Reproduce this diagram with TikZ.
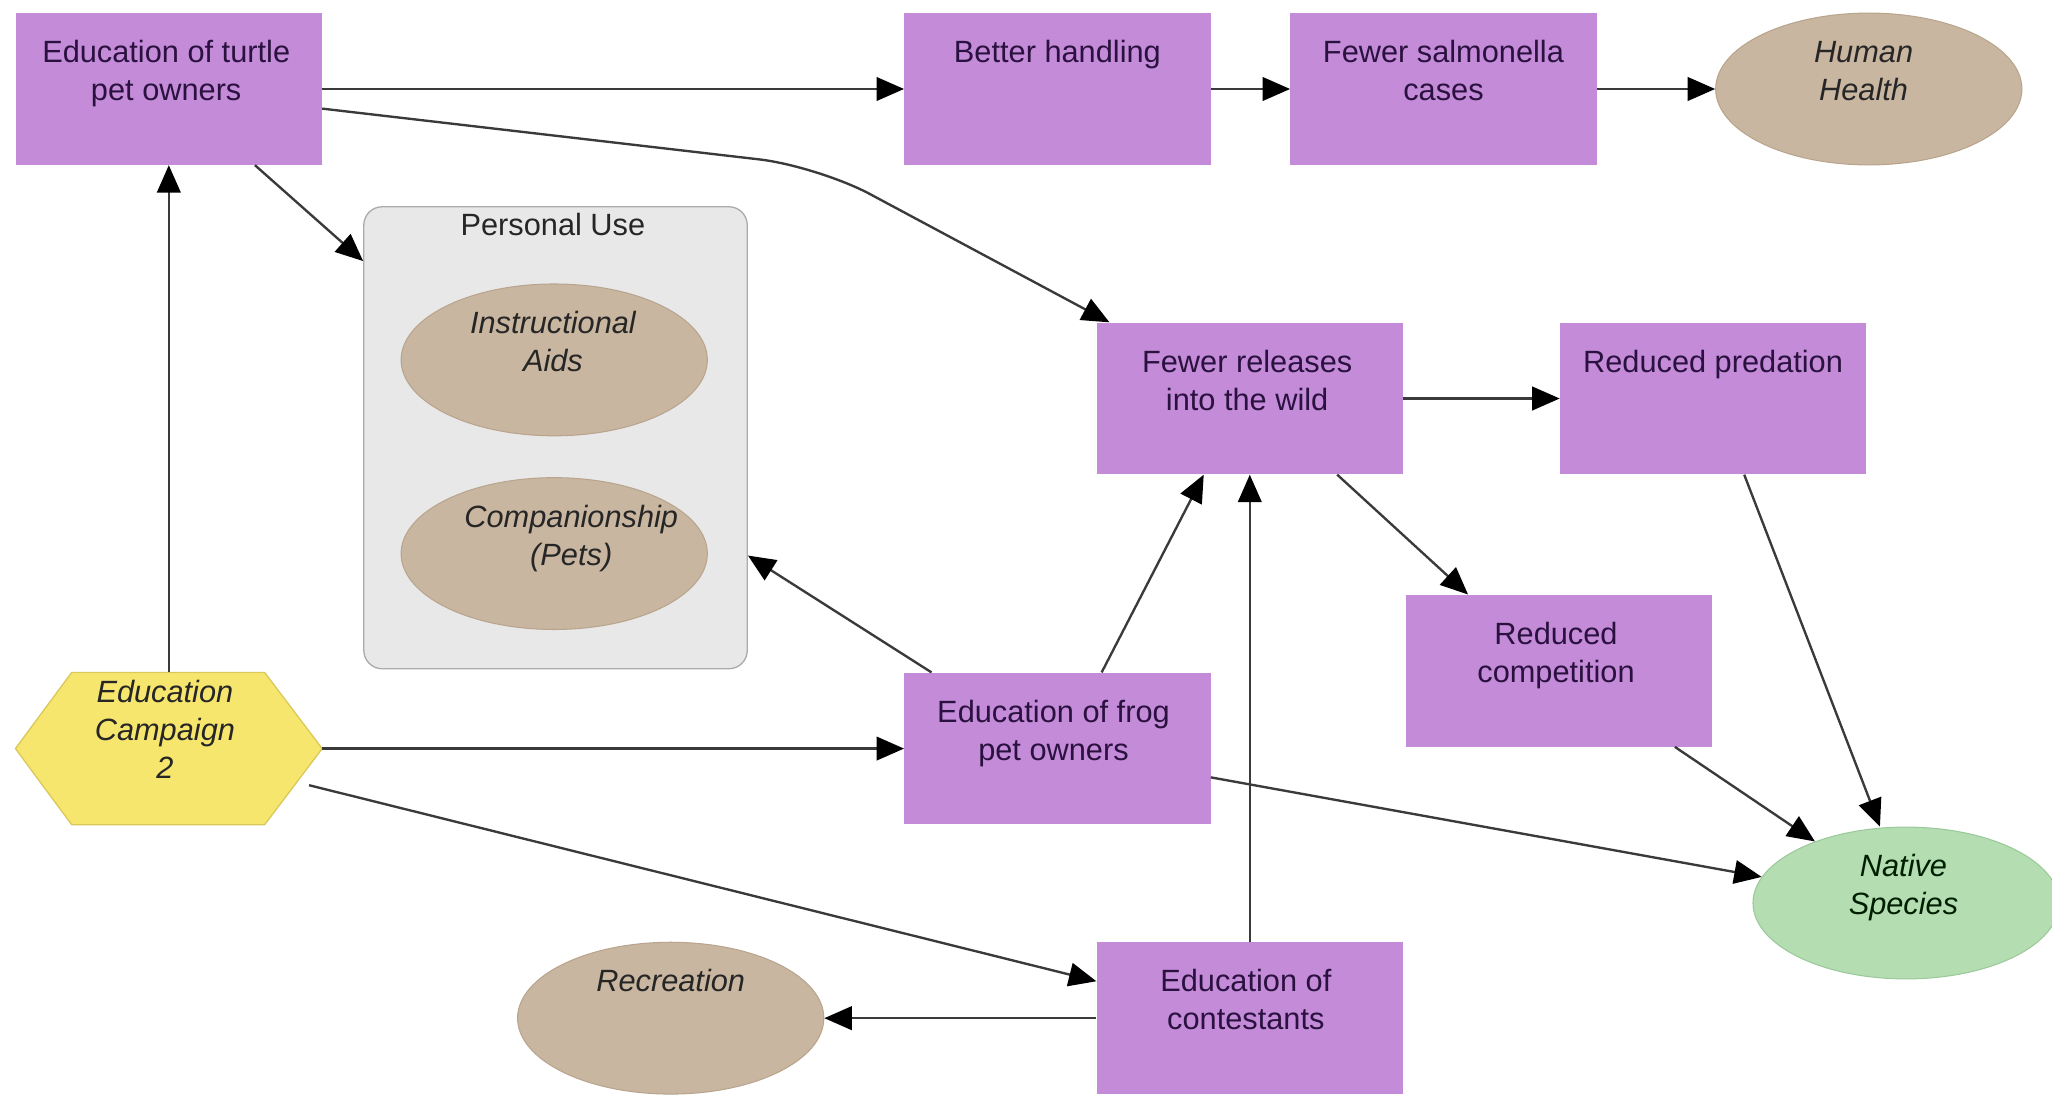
\documentclass[tikz,border=0pt]{standalone}
\usepackage{fontspec}
\setmainfont{Liberation Sans}
\usetikzlibrary{arrows.meta,calc,shapes.geometric}
\definecolor{boxfill}{HTML}{C38BD8}
\definecolor{boxtext}{HTML}{2B1140}
\definecolor{tanfill}{HTML}{C9B6A0}
\definecolor{tanedge}{HTML}{B9A58E}
\definecolor{hexfill}{HTML}{F7E66E}
\definecolor{hexedge}{HTML}{D9C95A}
\definecolor{natfill}{HTML}{B4DDB2}
\definecolor{natedge}{HTML}{9CC99A}
\definecolor{grpfill}{HTML}{E8E8E8}
\definecolor{grpedge}{HTML}{ABABAB}
\definecolor{linec}{HTML}{3A3A3A}
\begin{document}
\begin{tikzpicture}[x=1pt,y=-1pt,
  pbox/.style={rectangle, fill=boxfill, minimum width=234pt, minimum height=116pt, inner sep=0pt},
  tanell/.style={ellipse, fill=tanfill, draw=tanedge, line width=0.8pt, minimum width=234pt, minimum height=116pt, inner sep=0pt},
  txt/.style={anchor=north, inner sep=0pt, align=center, font=\fontsize{23.5}{29}\selectfont},
  ptxt/.style={txt, text=boxtext},
  itxt/.style={txt, font=\fontsize{23.5}{29}\selectfont\itshape, text=black!85},
  arr/.style={draw=linec, line width=1.8pt, -{Triangle[length=21pt,width=18pt,color=black]}},
]
\useasboundingbox (0,0) rectangle (1568,839);
\fill[white] (0,0) rectangle (1568,839);

% group
\node[rectangle, rounded corners=14pt, fill=grpfill, draw=grpedge, line width=1pt,
      minimum width=293pt, minimum height=353pt, inner sep=0pt] (pu) at (424.5,334.5) {};
\node[txt, text=black!85] (put) at ($(pu.north)+(-2,1.7)$) {\strut Personal Use};

% boxes
\node[pbox] (turtle) at (129,68) {};
\node[ptxt] (turtlet) at ($(turtle.north)+(-2,17.7)$) {\strut Education of turtle\\pet owners};
\node[pbox] (better) at (808,68) {};
\node[ptxt] (bettert) at ($(better.north)+(0,17.7)$) {\strut Better handling};
\node[pbox] (salm) at (1103,68) {};
\node[ptxt] (salmt) at ($(salm.north)+(0,17.7)$) {\strut Fewer salmonella\\cases};
\node[pbox] (rel) at (955,304.5) {};
\node[ptxt] (relt) at ($(rel.north)+(-2,17.7)$) {\strut Fewer releases\\into the wild};
\node[pbox] (pred) at (1309,304.5) {};
\node[ptxt] (predt) at ($(pred.north)+(0,17.7)$) {\strut Reduced predation};
\node[pbox] (comp) at (1191,512.5) {};
\node[ptxt] (compt) at ($(comp.north)+(-2,17.7)$) {\strut Reduced\\competition};
\node[pbox] (frog) at (808,572) {};
\node[ptxt] (frogt) at ($(frog.north)+(-3,17.7)$) {\strut Education of frog\\pet owners};
\node[pbox] (cont) at (955,778) {};
\node[ptxt] (contt) at ($(cont.north)+(-3,17.7)$) {\strut Education of\\contestants};

% ellipses
\node[tanell] (hh) at (1428,68) {};
\node[itxt] (hht) at ($(hh.north)+(-4,17.7)$) {\strut Human\\Health};
\node[tanell] (ia) at (423.5,275) {};
\node[itxt] (iat) at ($(ia.north)+(-1,17.7)$) {\strut Instructional\\Aids};
\node[tanell] (cp) at (423.5,423) {};
\node[itxt] (cpt) at ($(cp.north)+(13,17.7)$) {\strut Companionship\\(Pets)};
\node[tanell] (rec) at (512.5,778) {};
\node[itxt] (rect) at ($(rec.north)+(0,17.7)$) {\strut Recreation};
\node[ellipse, fill=natfill, draw=natedge, line width=0.8pt, minimum width=234pt, minimum height=116pt, inner sep=0pt] (native) at (1456.5,690) {};
\node[itxt, text=black!80!green!60!black] (nativet) at ($(native.north)+(-2,17.7)$) {\strut Native\\Species};

% hexagon
\node[rectangle, minimum width=234pt, minimum height=116pt, inner sep=0pt] (camp) at (129,572) {};
\filldraw[fill=hexfill, draw=hexedge, line width=1pt] (camp.west) -- ($(camp.north west)+(43,0)$) -- ($(camp.north east)+(-44,0)$) -- (camp.east) -- ($(camp.south east)+(-44,0)$) -- ($(camp.south west)+(43,0)$) -- cycle;
\node[itxt] (campt) at ($(camp.north)+(-3,2.7)$) {\strut Education\\Campaign\\2};

% connectors
\coordinate (bend) at (625,127);
\draw[arr] (turtle) -- (better);
\draw[arr] (better) -- (salm);
\draw[arr] (salm) -- (hh);
\draw[arr, rounded corners=45pt] ($(turtle.east)+(0,15)$) -- (bend) -- ($(rel.north west)+(10,0)$);
\draw[arr] ($(turtle.south west)+(183,0)$) -- ($(pu.north west)+(0,42)$);
\draw[arr] (camp) -- (turtle);
\draw[arr] (camp) -- (frog);
\draw[arr] ($(camp.east)+(-10,28)$) -- ($(cont.north west)+(0,30)$);
\draw[arr] ($(frog.north west)+(21,0)$) -- ($(pu.north east)+(0,267)$);
\draw[arr] ($(frog.north west)+(151,0)$) -- ($(rel.south west)+(82,0)$);
\draw[arr] ($(frog.east)+(0,22)$) -- (native);
\draw[arr] (cont) -- (rel);
\draw[arr] (cont) -- (rec);
\draw[arr] (rel) -- (pred);
\draw[arr] ($(rel.south west)+(184,0)$) -- ($(comp.north west)+(48,0)$);
\draw[arr] ($(pred.south west)+(141,0)$) -- ($(native.north)+(-20,0)$);
\draw[arr] ($(comp.south west)+(206,0)$) -- (native);
\end{tikzpicture}
\end{document}
